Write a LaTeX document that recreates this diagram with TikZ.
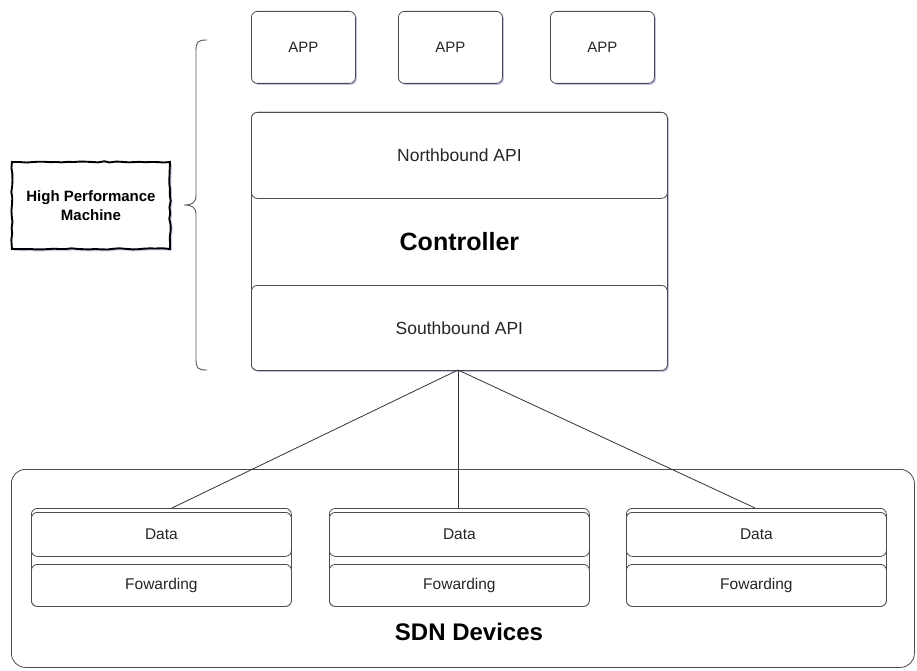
\documentclass[tikz,border=0pt]{standalone}
\usepackage{fontspec}
\setmainfont{Liberation Sans}
\usetikzlibrary{shadows,decorations.pathmorphing}
\begin{document}
\begin{tikzpicture}[x=1pt,y=-1pt,
  box/.style={draw=black!70, rounded corners=6pt, line width=0.8pt, fill=white, inner sep=0pt, anchor=north west, align=center, text=black!85},
  shad/.style={drop shadow={shadow xshift=1.5pt, shadow yshift=-1.5pt, opacity=0.35, fill=blue!40!gray}},
  small/.style={font=\fontsize{15}{18}\selectfont},
  mid/.style={font=\fontsize{17.5}{20}\selectfont},
  dev/.style={font=\fontsize{15.5}{18}\selectfont},
  link/.style={draw=black!80, line width=0.8pt},
  hand/.style={draw=black, line width=1.9pt, fill=white, inner sep=0pt, anchor=north west, align=center,
    decorate, decoration={random steps, segment length=6pt, amplitude=0.7pt},
    drop shadow={shadow xshift=2pt, shadow yshift=-2pt, opacity=0.3, fill=blue!40!gray}},
  bracestyle/.style={draw=black!65, line width=0.9pt}
]
\useasboundingbox (0,0) rectangle (917,671);

% APP boxes
\node[box, shad, small, minimum width=104pt, minimum height=72pt] (app1) at (251,11) {APP};
\node[box, shad, small, minimum width=104pt, minimum height=72pt] (app2) at (398,11) {APP};
\node[box, shad, small, minimum width=104pt, minimum height=72pt] (app3) at (550,11) {APP};

% Controller
\node[box, shad, minimum width=416pt, minimum height=258pt, font=\bfseries\fontsize{25}{28}\selectfont, text=black] (ctrl) at (251,112) {Controller};
\node[box, mid, minimum width=416pt, minimum height=86pt] (north) at (251,112) {Northbound API};
\node[box, mid, minimum width=416pt, minimum height=85pt] (south) at (251,285) {Southbound API};

% Brace
\coordinate (bt) at (207,40);
\coordinate (bb) at (207,370);
\coordinate (btip) at (184,205);
\draw[bracestyle] (bt) .. controls (197,40) and (196,42) .. (196,52)
  -- (196,195) .. controls (196,203) and (192,205) .. (btip)
  .. controls (192,205) and (196,207) .. (196,215)
  -- (196,358) .. controls (196,368) and (197,370) .. (bb);

% High performance machine
\node[hand, minimum width=158pt, minimum height=87pt, font=\bfseries\fontsize{15}{19}\selectfont] (hpm) at (11,161) {High Performance\\Machine};

% SDN Devices container
\node[box, rounded corners=14pt, minimum width=903pt, minimum height=198pt, anchor=north west] (sdn) at (11,469) {};
\node[font=\bfseries\fontsize{24}{28}\selectfont, text=black] (sdnlabel) at (469,632) {SDN Devices};

% Devices
\foreach \i/\x in {1/31, 2/329, 3/626} {
  \node[box, minimum width=260pt, minimum height=98pt] (dev\i) at (\x,508) {};
  \node[box, dev, minimum width=260pt, minimum height=44pt] (data\i) at (\x,512) {Data};
  \node[box, dev, minimum width=260pt, minimum height=42pt] (fwd\i) at (\x,564) {Fowarding};
}

% Connectors
\coordinate (sb) at (458,370);
\coordinate (d1) at (172,508);
\coordinate (d2) at (458,508);
\coordinate (d3) at (755,508);
\draw[link] (sb) -- (d1);
\draw[link] (sb) -- (d2);
\draw[link] (sb) -- (d3);
\end{tikzpicture}
\end{document}
